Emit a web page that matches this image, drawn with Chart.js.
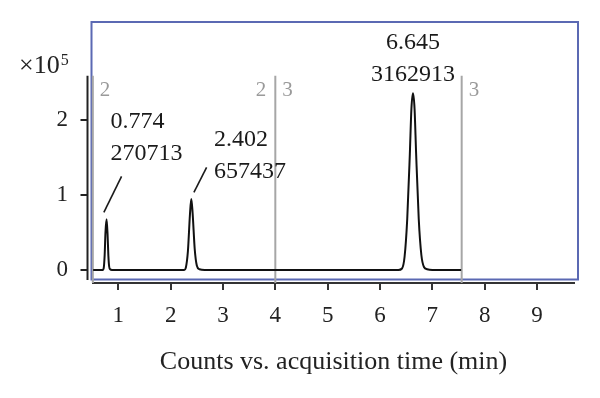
<!DOCTYPE html>
<html>
<head>
<meta charset="utf-8">
<script src="https://cdn.jsdelivr.net/npm/chart.js@4.4.1/dist/chart.umd.min.js"></script>
<style>
  html, body { margin: 0; padding: 0; background: #fff; }
  #wrap { width: 600px; height: 398px; position: relative; }
</style>
</head>
<body>
<div id="wrap"><canvas id="myChart"></canvas></div>
<script>
const times = [
  0.52, 0.70, 0.72, 0.74, 0.755, 0.776, 0.795, 0.81, 0.825, 0.845, 0.88,
  2.26, 2.29, 2.33, 2.37, 2.395, 2.42, 2.46, 2.50, 2.55, 2.65,
  6.35, 6.42, 6.47, 6.52, 6.57, 6.60, 6.63, 6.66, 6.69, 6.74, 6.79, 6.84, 6.90, 7.00,
  7.55
];
const counts = [
  0.00, 0.00, 0.02, 0.20, 0.50, 0.676, 0.48, 0.20, 0.05, 0.01, 0.00,
  0.00, 0.03, 0.25, 0.75, 0.947, 0.76, 0.28, 0.06, 0.01, 0.00,
  0.00, 0.02, 0.18, 0.68, 1.55, 2.15, 2.356, 2.15, 1.55, 0.68, 0.20, 0.04, 0.01, 0.00,
  0.00
];

// Picchi annotati
const peakTimes = [0.776, 2.395, 6.63];
const peakHeights = [0.676, 0.947, 2.356];
const peakRtLabels = ["0.774", "2.402", "6.645"];
const peakAreaLabels = ["270713", "657437", "3162913"];

// Limiti dei segmenti e loro etichette
const segmentTimes = [0.514, 4.0, 7.56];
const segmentLeftLabels = ["", "2", ""];
const segmentRightLabels = ["2", "3", "3"];
const segmentTop = 2.59;

// Etichette degli assi
const xTicks = [1, 2, 3, 4, 5, 6, 7, 8, 9];
const yTicks = [0, 1, 2];
const xTitle = "Counts vs. acquisition time (min)";

const SERIF = "'Liberation Serif', 'DejaVu Serif', serif";

// Disposizione delle etichette dei picchi (offset in pixel dall'apice)
const annotLayout = [
  { lead: [-2.7, -7, 15, -43], textX: 4, align: "left", base: [-91, -59] },
  { lead: [2.6, -6.7, 15.3, -31.7], textX: 22.6, align: "left", base: [-52.5, -21] },
  { lead: null, textX: 0, align: "center", base: [-44.5, -12.5] }
];

const decorPlugin = {
  id: "decor",
  beforeDatasetsDraw(chart) {
    const { ctx, chartArea: a, scales: { x, y } } = chart;
    ctx.save();
    // riquadro blu
    ctx.strokeStyle = "#5b69b3";
    ctx.lineWidth = 2;
    ctx.strokeRect(a.left - 1.5, a.top, a.width + 5.5, a.height - 3.5);

    // linee dei segmenti
    ctx.strokeStyle = "#a6a6a6";
    ctx.lineWidth = 2;
    ctx.fillStyle = "#9a9a9a";
    ctx.font = "21px " + SERIF;
    ctx.textBaseline = "alphabetic";
    segmentTimes.forEach((t, i) => {
      const px = x.getPixelForValue(t);
      const top = y.getPixelForValue(segmentTop);
      ctx.beginPath();
      ctx.moveTo(px, top);
      ctx.lineTo(px, a.bottom);
      ctx.stroke();
      if (segmentLeftLabels[i]) {
        ctx.textAlign = "right";
        ctx.fillText(segmentLeftLabels[i], px - 9, top + 20);
      }
      if (segmentRightLabels[i]) {
        ctx.textAlign = "left";
        ctx.fillText(segmentRightLabels[i], px + 7, top + 20);
      }
    });

    // asse y
    const ax = a.left - 5.5;
    ctx.strokeStyle = "#222";
    ctx.lineWidth = 2;
    ctx.beginPath();
    ctx.moveTo(ax, y.getPixelForValue(segmentTop));
    ctx.lineTo(ax, a.bottom - 3);
    ctx.stroke();
    yTicks.forEach(v => {
      const py = y.getPixelForValue(v);
      ctx.beginPath();
      ctx.moveTo(ax - 7, py);
      ctx.lineTo(ax, py);
      ctx.stroke();
    });

    // x10^5
    ctx.fillStyle = "#222";
    ctx.textAlign = "left";
    ctx.font = "26px " + SERIF;
    ctx.fillText("\u00d710", 19, 73);
    const w = ctx.measureText("\u00d710").width;
    ctx.font = "16px " + SERIF;
    ctx.fillText("5", 19 + w + 1, 65);
    ctx.restore();
  },
  afterDatasetsDraw(chart) {
    const { ctx, scales: { x, y } } = chart;
    ctx.save();
    ctx.fillStyle = "#1a1a1a";
    ctx.strokeStyle = "#1a1a1a";
    ctx.lineWidth = 1.6;
    ctx.font = "24px " + SERIF;
    ctx.textBaseline = "alphabetic";
    peakTimes.forEach((t, i) => {
      const px = x.getPixelForValue(t);
      const py = y.getPixelForValue(peakHeights[i]);
      const L = annotLayout[i];
      if (L.lead) {
        ctx.beginPath();
        ctx.moveTo(px + L.lead[0], py + L.lead[1]);
        ctx.lineTo(px + L.lead[2], py + L.lead[3]);
        ctx.stroke();
      }
      ctx.textAlign = L.align;
      ctx.fillText(peakRtLabels[i], px + L.textX, py + L.base[0]);
      ctx.fillText(peakAreaLabels[i], px + L.textX, py + L.base[1]);
    });
    ctx.restore();
  }
};

new Chart("myChart", {
  type: "line",
  data: {
    datasets: [{
      data: times.map((t, i) => ({ x: t, y: counts[i] })),
      borderColor: "#111",
      borderWidth: 2,
      pointRadius: 0,
      fill: false,
      cubicInterpolationMode: "monotone"
    }]
  },
  options: {
    responsive: true,
    maintainAspectRatio: false,
    animation: false,
    layout: { padding: { top: 22, right: 26, left: 0, bottom: 0 } },
    plugins: { legend: { display: false }, tooltip: { enabled: false } },
    scales: {
      x: {
        type: "linear",
        min: 0.517,
        max: 9.706,
        afterFit: (s) => { s.height = 115; s.paddingLeft = 0; s.paddingRight = 0; },
        afterBuildTicks: (s) => { s.ticks = xTicks.map(v => ({ value: v })); },
        border: { display: true, color: "#333", width: 2 },
        grid: { drawOnChartArea: false, drawTicks: true, tickLength: 7, color: "#333", lineWidth: 2 },
        ticks: { color: "#222", font: { family: SERIF, size: 23 }, padding: 12, maxRotation: 0 },
        title: { display: true, text: xTitle, color: "#222", font: { family: SERIF, size: 26 }, padding: { top: 0, bottom: 20 } }
      },
      y: {
        type: "linear",
        min: -0.1733,
        max: 3.3067,
        afterFit: (s) => { s.width = 93; s.paddingTop = 0; s.paddingBottom = 0; },
        afterBuildTicks: (s) => { s.ticks = yTicks.map(v => ({ value: v })); },
        border: { display: false },
        grid: { display: false },
        ticks: { color: "#222", font: { family: SERIF, size: 23 }, padding: 17 }
      }
    }
  },
  plugins: [decorPlugin]
});
</script>
</body>
</html>
